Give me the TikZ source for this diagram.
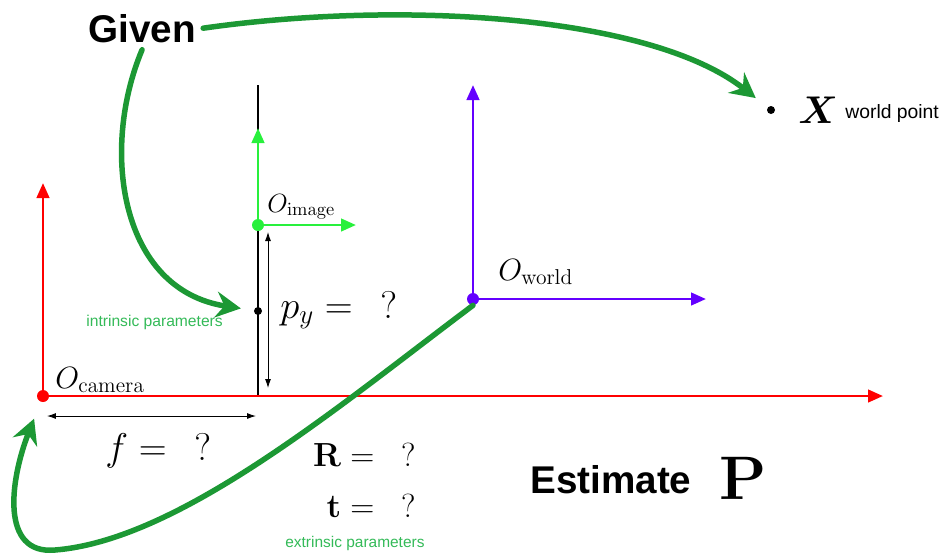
\RequirePackage{fix-cm}
\documentclass[tikz,border=0pt]{standalone}
\usepackage{amsmath}
\usepackage{amssymb}
\usepackage[no-math]{fontspec}
\newfontfamily\helv{Liberation Sans}
\usepackage{xcolor}
\usepackage{tikz}
\usetikzlibrary{arrows.meta, positioning}
\usetikzlibrary{calc}

\definecolor{penvert}{RGB}{28,152,52}
\definecolor{textvert}{RGB}{52,186,88}
\definecolor{axevert}{RGB}{40,240,60}
\definecolor{axeviolet}{RGB}{100,0,255}

\begin{document}
\begin{tikzpicture}[x=0.02cm, y=-0.02cm, >=latex,
		axe/.style={line width=1.6pt, -{Triangle[length=0.3cm,width=0.25cm]}},
		pastille/.style={circle, fill, inner sep=0pt, minimum size=#1},
		plume/.style={penvert, line width=0.11cm, line cap=round, -{Stealth[length=0.5cm,width=0.52cm,inset=0.17cm]}},
		cote/.style={line width=0.5pt, {Latex[length=0.18cm,width=0.12cm]}-{Latex[length=0.18cm,width=0.12cm]}},
		etiq/.style={anchor=base west, inner sep=0pt}]
		\useasboundingbox (0,0) rectangle (946,556);
		
		% --- Origines des repères ---
		\coordinate (ocam) at (43,396);
		\coordinate (oimg) at (258,225);
		\coordinate (owld) at (473,299);
		\coordinate (plantop) at (258,85);
		\coordinate (planbot) at (258,396);
		\coordinate (bas) at (55,550);
		
		% --- Plan image ---
		\draw[line width=1pt] (plantop) -- (planbot);
		
		% --- Axes (caméra, image, monde) ---
		\foreach \o/\c/\h/\l in {ocam/red/213/840, oimg/axevert/97/98, owld/axeviolet/214/233} {
			\draw[axe, \c] (\o) -- ++(0,-\h);
			\draw[axe, \c] (\o) -- ++(\l,0);
		}
		
		% --- Points ---
		\node[pastille=0.24cm, red] (dcam) at (ocam) {};
		\node[pastille=0.24cm, axevert] (dimg) at (oimg) {};
		\node[pastille=0.24cm, axeviolet] (dwld) at (owld) {};
		\node[pastille=0.16cm] (dp) at (258,311) {};
		\node[pastille=0.16cm] (dx) at (771,110) {};
		
		% --- Cotes ---
		\draw[cote] ($(dcam)+(4,20)$) -- ($(planbot)+(-2,20)$);
		\draw[cote] ($(oimg)+(10,7)$) -- ($(planbot)+(10,-8)$);
		
		% --- Étiquettes ---
		\node[etiq, font=\fontsize{17.5}{21}\selectfont] (lcam) at ($(ocam)+(12,-8)$) {$O_{\mathrm{camera}}$};
		\node[etiq, font=\fontsize{15}{18}\selectfont] (limg) at ($(oimg)+(9,-13)$) {$O_{\mathrm{image}}$};
		\node[etiq, font=\fontsize{17.5}{21}\selectfont] (lwld) at ($(owld)+(25,-19)$) {$O_{\mathrm{world}}$};
		\node[etiq, font=\fontsize{22}{26}\selectfont] (py) at (280,318) {$p_y =\hspace{0.72em} ?$};
		\node[etiq, font=\fontsize{22}{26}\selectfont] (fq) at (105,460) {$f =\hspace{0.72em} ?$};
		\node[etiq, anchor=base east, font=\fontsize{19}{23}\selectfont] (rq) at (416,466) {$\mathbf{R} =\hspace{0.8em} ?$};
		\node[etiq, anchor=base east, font=\fontsize{19}{23}\selectfont] (tq) at (416,517) {$\mathbf{t} =\hspace{0.8em} ?$};
		\node[etiq, font=\fontsize{22}{26}\selectfont] (lx) at (798,123) {$\boldsymbol{X}$};
		\node[etiq, font=\helv\fontsize{11}{13}\selectfont] (lwp) at (845,118) {world point};
		\node[etiq, textvert, font=\helv\fontsize{8.9}{11}\selectfont] (lint) at (86,326) {intrinsic parameters};
		\node[etiq, textvert, font=\helv\fontsize{8.8}{11}\selectfont] (lext) at (285,547) {extrinsic parameters};
		\node[anchor=base west, inner sep=4pt, font=\helv\bfseries\fontsize{22}{26}\selectfont] (given) at (81,42) {Given};
		\node[etiq, font=\helv\bfseries\fontsize{22}{26}\selectfont] (est) at (530,493) {Estimate};
		\node[etiq, font=\fontsize{35}{40}\selectfont] (pm) at (719,499) {$\mathbf{P}$};
		
		% --- Flèches à main levée ---
		\draw[plume, shorten >=0.3cm] (given.east) .. controls (400,0) and (650,15) .. (dx);
		\draw[plume, shorten >=0.26cm] (given.south) .. controls (100,150) and (120,290) .. (dp);
		\draw[plume, shorten >=0.36cm] (dwld.south) .. controls (340,405) and (180,540) .. (bas)
			.. controls (0,555) and (10,480) .. (dcam);
		
	\end{tikzpicture}
\end{document}
